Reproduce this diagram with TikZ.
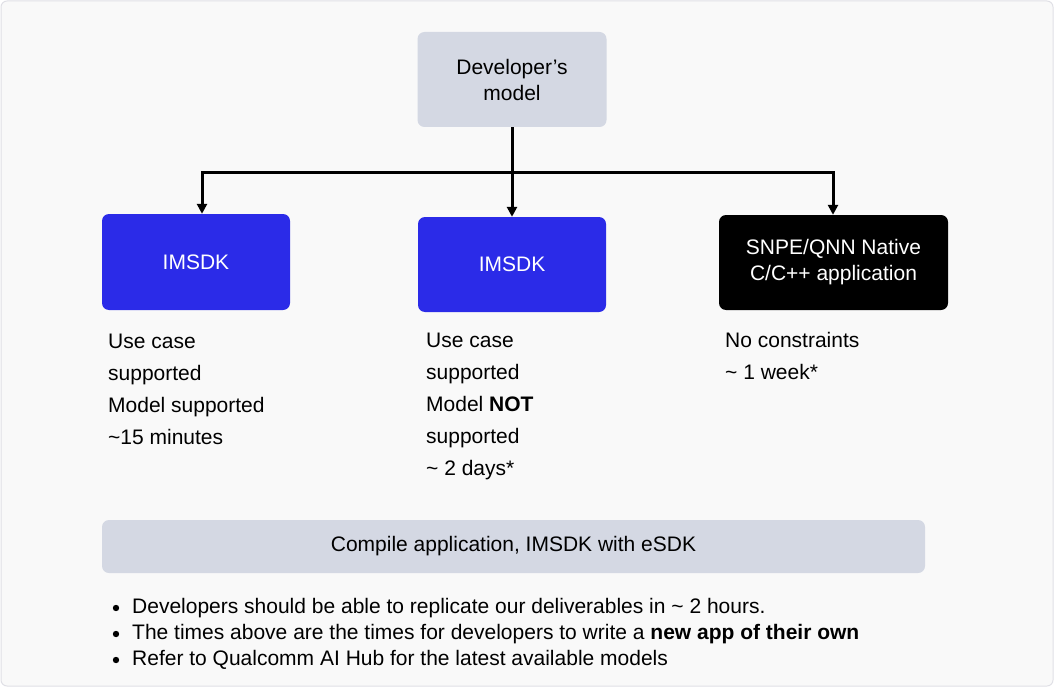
\documentclass[tikz,border=0pt]{standalone}
\usepackage{fontspec}
\setmainfont{Liberation Sans}
\usetikzlibrary{arrows.meta}
\definecolor{bgcol}{HTML}{F9F9F9}
\definecolor{framecol}{HTML}{E0E0E6}
\definecolor{graycol}{HTML}{D4D8E3}
\definecolor{bluecol}{HTML}{2B2BE8}
\tikzset{
  box/.style={rounded corners=7pt, align=center, inner sep=0pt, font=\fontsize{21}{26}\selectfont},
  graybox/.style={box, fill=graycol, text=black},
  bluebox/.style={box, fill=bluecol, text=white},
  blackbox/.style={box, fill=black, text=white},
  conn/.style={draw=black, line width=3pt, -{Triangle[width=10pt,length=10pt]}},
  txt/.style={anchor=west, align=left, inner sep=0pt, font=\fontsize{21}{32}\selectfont},
  bul/.style={anchor=west, align=left, inner sep=0pt, font=\fontsize{21}{26}\selectfont}
}
\begin{document}
\begin{tikzpicture}[x=1pt,y=-1pt]
\path[use as bounding box] (0,0) rectangle (1054,687);
\draw[draw=framecol, fill=bgcol, rounded corners=6pt, line width=1pt] (1,1) rectangle (1053,686);

\node[graybox, minimum width=189pt, minimum height=95pt] (dev) at (512,79.5) {Developer’s\\model};
\node[bluebox, minimum width=188pt, minimum height=96pt] (b1) at (196,262) {IMSDK};
\node[bluebox, minimum width=188pt, minimum height=95pt] (b2) at (512,264.5) {IMSDK};
\node[blackbox, minimum width=229pt, minimum height=95pt] (b3) at (833.5,262.5) {SNPE/QNN Native\\C/C++ application};

\coordinate (hbar) at (512,173);
\draw[conn] (dev.south) -- (b2.north);
\draw[conn] (hbar) -| ([xshift=6pt]b1.north);
\draw[conn] (hbar) -| ([xshift=-0.5pt]b3.north);

\node[txt] (t1) at (108,389) {Use case\\supported\\Model supported\\\textasciitilde15 minutes};
\node[txt] (t2) at (426,406) {Use case\\supported\\Model \textbf{NOT}\\supported\\\textasciitilde{} 2 days*};
\node[txt] (t3) at (725,356) {No constraints\\\textasciitilde{} 1 week*};

\node[graybox, minimum width=823pt, minimum height=53pt] (comp) at (513.5,546.5) {Compile application, IMSDK with eSDK};

\node[bul] (l1) at (132,608) {Developers should be able to replicate our deliverables in \textasciitilde{} 2 hours.};
\node[bul] (l2) at (132,634) {The times above are the times for developers to write a \textbf{new app of their own}};
\node[bul] (l3) at (132,660) {Refer to Qualcomm AI Hub for the latest available models};
\foreach \y/\n in {608/d1,634/d2,660/d3}{
  \fill (116,\y) circle (3.2pt) coordinate (\n);
}
\end{tikzpicture}
\end{document}
